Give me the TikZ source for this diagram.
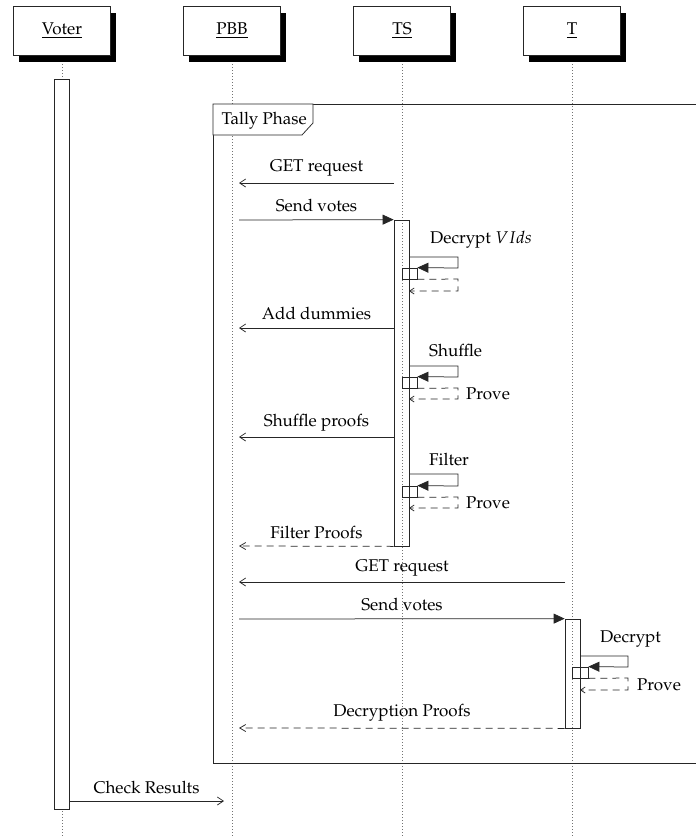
\documentclass[tikz,border=0pt]{standalone}
\usepackage[T1]{fontenc}
\usepackage{mathpazo}
\usetikzlibrary{arrows.meta,shadows,backgrounds}
\begin{document}
\begin{tikzpicture}[x=1pt,y=-1pt,
  every node/.style={font=\fontsize{17}{20}\selectfont},
  ln/.style={line width=0.75pt, draw=black!85},
  lifeline/.style={line width=0.7pt, draw=black!55, dash pattern=on 0.9pt off 2.1pt},
  inst/.style={draw=black!85, line width=0.75pt, fill=white, minimum width=97pt, minimum height=49pt, inner sep=0pt,
    drop shadow={shadow xshift=5pt, shadow yshift=-6.5pt, opacity=1, fill=black}},
  act/.style={draw=black!85, line width=0.75pt, minimum width=15pt, inner sep=0pt},
  msg/.style={ln, -{Straight Barb[length=6pt,width=8pt]}},
  call/.style={ln, -{Triangle[length=11pt,width=10pt]}},
  ret/.style={ln, dash pattern=on 7pt off 5pt, -{Straight Barb[length=6pt,width=7pt]}},
  sret/.style={ln, dash pattern=on 7pt off 5pt, -{Straight Barb[length=4.5pt,width=6pt]}},
  lbl/.style={anchor=base, inner sep=0pt},
  lblw/.style={anchor=base west, inner sep=0pt}
]
\useasboundingbox (0,0) rectangle (696,836);

% instances
\node[inst] (voter) at (62,30.5) {\underline{Voter}};
\node[inst] (pbb) at (232,30.5) {\underline{PBB}};
\node[inst] (ts) at (402,30.5) {\underline{TS}};
\node[inst] (t) at (572,30.5) {\underline{T}};

\coordinate (voterend) at (62,836);
\coordinate (pbbend) at (232,836);
\coordinate (tsend) at (402,836);
\coordinate (tend) at (572,836);

\begin{scope}[on background layer]
\draw[lifeline] (voter.south) -- (voterend);
\draw[lifeline] (pbb.south) -- (pbbend);
\draw[lifeline] (ts.south) -- (tsend);
\draw[lifeline] (t.south) -- (tend);
\end{scope}

% frame
\coordinate (frtl) at (213,104);
\coordinate (frbr) at (700,763);
\draw[ln] (frtl) rectangle (frbr);
\draw[ln, fill=white] (frtl) -- (313,104) -- (313,123) -- (302,135) -- (213,135) -- cycle;
\node[lblw] (tally) at (221.5,124.3) {Tally Phase};

% activations
\node[act, fill=white, minimum height=730pt] (voteract) at (61.5,444) {};
\node[act, minimum height=326pt] (tsact) at (401.5,383) {};
\node[act, minimum height=109pt] (tact) at (572.5,673.5) {};
\node[act, minimum height=11pt] (ts1) at (409.5,273.5) {};
\node[act, minimum height=11pt] (ts2) at (409.5,382.5) {};
\node[act, minimum height=11pt] (ts3) at (409.5,491.5) {};
\node[act, minimum width=16pt, minimum height=11pt] (t1) at (580,672.5) {};

% GET request 1
\coordinate (m1s) at (394,183); \coordinate (m1e) at (239,183);
\draw[msg] (m1s) -- (m1e);
\node[lbl] (l1) at (316.5,171.7) {GET request};
% Send votes 1
\coordinate (m2s) at (239,220);
\draw[call] (m2s) -- (tsact.north west);
\node[lbl] (l2) at (316.5,211.7) {Send votes};
% Decrypt VIds
\coordinate (c1s) at (409,257); \coordinate (c1a) at (458,257); \coordinate (c1b) at (458,268);
\draw[call] (c1s) -- (c1a) -- (c1b) -- (ts1.north east);
\coordinate (r1a) at (458,279); \coordinate (r1b) at (458,291); \coordinate (r1e) at (409,291);
\draw[sret] (ts1.south east) -- (r1a) -- (r1b) -- (r1e);
\node[lblw] (l3) at (430,243) {Decrypt $VIds$};
% Add dummies
\coordinate (m3s) at (394,328); \coordinate (m3e) at (239,328);
\draw[msg] (m3s) -- (m3e);
\node[lbl] (l4) at (316.5,319.5) {Add dummies};
% Shuffle
\coordinate (c2s) at (409,366); \coordinate (c2a) at (458,366); \coordinate (c2b) at (458,377);
\draw[call] (c2s) -- (c2a) -- (c2b) -- (ts2.north east);
\coordinate (r2a) at (458,388); \coordinate (r2b) at (458,399); \coordinate (r2e) at (409,399);
\draw[sret] (ts2.south east) -- (r2a) -- (r2b) -- (r2e);
\node[lblw] (l5) at (429,356.7) {Shuffle};
\node[lblw] (p1) at (466,399) {Prove};
% Shuffle proofs
\coordinate (m4s) at (394,437); \coordinate (m4e) at (239,437);
\draw[msg] (m4s) -- (m4e);
\node[lbl] (l6) at (316.5,426) {Shuffle proofs};
% Filter
\coordinate (c3s) at (409,474); \coordinate (c3a) at (458,474); \coordinate (c3b) at (458,486);
\draw[call] (c3s) -- (c3a) -- (c3b) -- (ts3.north east);
\coordinate (r3a) at (458,497); \coordinate (r3b) at (458,508); \coordinate (r3e) at (409,508);
\draw[sret] (ts3.south east) -- (r3a) -- (r3b) -- (r3e);
\node[lblw] (l7) at (429,465.7) {Filter};
\node[lblw] (p2) at (466,508) {Prove};
% Filter Proofs
\coordinate (m5e) at (239,546);
\draw[ret] (tsact.south west) -- (m5e);
\node[lbl] (l8) at (316.5,538.3) {Filter Proofs};
% GET request 2
\coordinate (m6s) at (565,582); \coordinate (m6e) at (239,582);
\draw[msg] (m6s) -- (m6e);
\node[lbl] (l9) at (402,571.7) {GET request};
% Send votes 2
\coordinate (m7s) at (239,619);
\draw[call] (m7s) -- (tact.north west);
\node[lbl] (l10) at (402,610.7) {Send votes};
% Decrypt
\coordinate (c4s) at (580,656); \coordinate (c4a) at (628,656); \coordinate (c4b) at (628,667);
\draw[call] (c4s) -- (c4a) -- (c4b) -- (t1.north east);
\coordinate (r4a) at (628,678); \coordinate (r4b) at (628,690); \coordinate (r4e) at (580,690);
\draw[sret] (t1.south east) -- (r4a) -- (r4b) -- (r4e);
\node[lblw] (l11) at (600,642.3) {Decrypt};
\node[lblw] (p3) at (637,690) {Prove};
% Decryption Proofs
\coordinate (m8e) at (239,728);
\draw[ret] (tact.south west) -- (m8e);
\node[lbl] (l12) at (402,716) {Decryption Proofs};
% Check Results
\coordinate (m9s) at (69,801); \coordinate (m9e) at (224,801);
\draw[msg] (m9s) -- (m9e);
\node[lbl] (l13) at (146.5,793.3) {Check Results};
\end{tikzpicture}
\end{document}
